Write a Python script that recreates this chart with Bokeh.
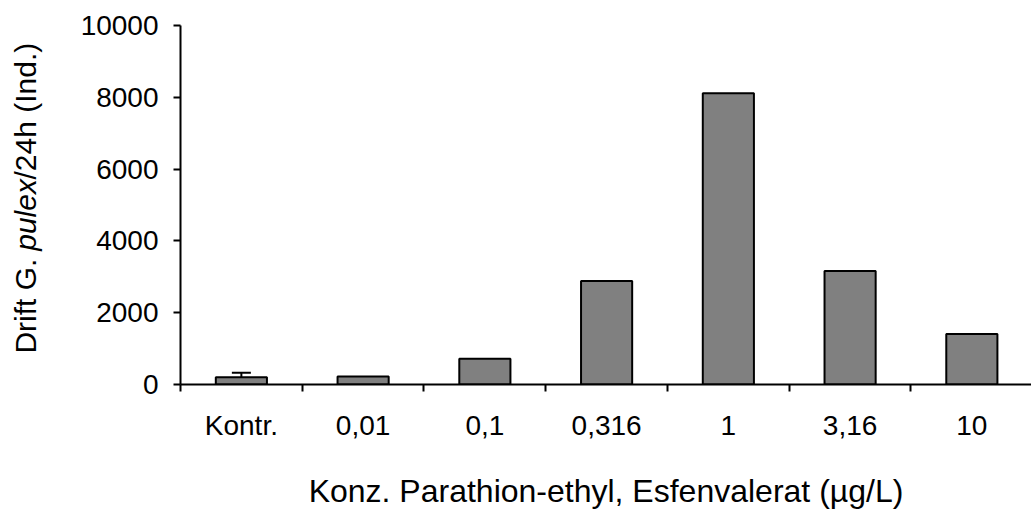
import math
from bokeh.plotting import figure
from bokeh.layouts import row
from bokeh.models import (ColumnDataSource, Range1d, FixedTicker, Whisker, TeeHead)
from bokeh.core.properties import value
from bokeh.embed import file_html
from bokeh.resources import INLINE

# ---- data ----
categories = ["Kontr.", "0,01", "0,1", "0,316", "1", "3,16", "10"]
drift = [205, 225, 715, 2880, 8110, 3160, 1405]
err = [120, 0, 0, 0, 0, 0, 0]
y_ticks = [0, 2000, 4000, 6000, 8000, 10000]
x_title = "Konz. Parathion-ethyl, Esfenvalerat (µg/L)"
y_title_parts = ["Drift G. ", "pulex", "/24h (Ind.)"]
y_title_italic = [False, True, False]

FONT = "Liberation Sans"
H = 511
LEFT_W = 60
TOP = 25
BOTTOM = 125

xs = [i + 0.5 for i in range(len(categories))]
src = ColumnDataSource(dict(x=xs, top=drift, cat=categories))

p = figure(width=1031 - LEFT_W, height=H, output_backend="svg", toolbar_location=None,
           x_range=Range1d(0, 6.99), y_range=Range1d(0, 10000),
           min_border_left=180 - LEFT_W, min_border_right=0, min_border_top=TOP,
           min_border_bottom=BOTTOM)
p.outline_line_color = None
p.xgrid.visible = False
p.ygrid.visible = False
p.background_fill_color = "white"

p.vbar(x="x", top="top", width=0.42, bottom=0, source=src,
       fill_color="#808080", line_color="black", line_width=2)

# error bars
ex = [x for x, e in zip(xs, err) if e > 0]
ey = [v for v, e in zip(drift, err) if e > 0]
ee = [e for e in err if e > 0]
esrc = ColumnDataSource(dict(base=ex, upper=[v + e for v, e in zip(ey, ee)],
                             lower=[v - e for v, e in zip(ey, ee)]))
w = Whisker(base="base", upper="upper", lower="lower", source=esrc,
            line_color="black", line_width=2,
            upper_head=TeeHead(size=19, line_width=2, line_color="black"),
            lower_head=TeeHead(size=19, line_width=2, line_color="black"))
p.add_layout(w)

# x axis
xa = p.xaxis[0]
xa.ticker = FixedTicker(ticks=xs, minor_ticks=list(range(len(categories) + 1)))
xa.major_label_overrides = {x: c for x, c in zip(xs, categories)}
xa.major_tick_line_color = None
xa.major_tick_out = 0
xa.major_tick_in = 0
xa.minor_tick_out = 7
xa.minor_tick_in = 0
xa.minor_tick_line_width = 2
xa.minor_tick_line_color = "black"
xa.axis_line_width = 2
xa.axis_line_color = "black"
xa.major_label_text_font = FONT
xa.major_label_text_font_size = "28px"
xa.major_label_text_color = "black"
xa.major_label_standoff = 18
xa.axis_label = x_title
xa.axis_label_text_font = FONT
xa.axis_label_text_font_size = "32px"
xa.axis_label_text_font_style = "normal"
xa.axis_label_text_color = "black"
xa.axis_label_standoff = 29

# y axis
ya = p.yaxis[0]
ya.ticker = FixedTicker(ticks=y_ticks)
ya.minor_tick_line_color = None
ya.major_tick_out = 7
ya.major_tick_in = 0
ya.major_tick_line_width = 2
ya.axis_line_width = 2
ya.axis_line_color = "black"
ya.major_label_text_font = FONT
ya.major_label_text_font_size = "28px"
ya.major_label_text_color = "black"
ya.major_label_standoff = 15

# ---- left strip holding the rotated y-axis title (mixed italic) ----
# its frame is aligned with the main frame (TOP..H-BOTTOM), so data y = H - canvas_y
t = figure(width=LEFT_W, height=H, output_backend="svg", toolbar_location=None,
           x_range=Range1d(0, LEFT_W), y_range=Range1d(BOTTOM, H - TOP),
           min_border_left=0, min_border_right=0, min_border_top=TOP,
           min_border_bottom=BOTTOM, x_axis_location=None, y_axis_location=None)
t.outline_line_color = None
t.xgrid.visible = False
t.ygrid.visible = False

fs = 30
em = {"Drift G. ": 3.445, "pulex": 2.39, "/24h (Ind.)": 4.558}
total = sum(em[s] for s in y_title_parts) * fs
center_from_top = 199
cur = (H - center_from_top) - total / 2  # data y from bottom
starts = []
for s in y_title_parts:
    starts.append(cur)
    cur += em[s] * fs

for italic in (False, True):
    sel = [i for i, it in enumerate(y_title_italic) if it == italic]
    tsrc = ColumnDataSource(dict(x=[25] * len(sel), y=[starts[i] for i in sel],
                                 text=[y_title_parts[i] for i in sel]))
    t.text(x="x", y="y", text="text", source=tsrc, angle=math.pi / 2,
           text_align="left", text_baseline="middle",
           text_font=value(FONT), text_font_size=value(f"{fs}px"),
           text_color="black",
           text_font_style="italic" if italic else "normal")

layout = row(t, p, spacing=0)
open("out.html", "w").write(file_html(layout, INLINE))
